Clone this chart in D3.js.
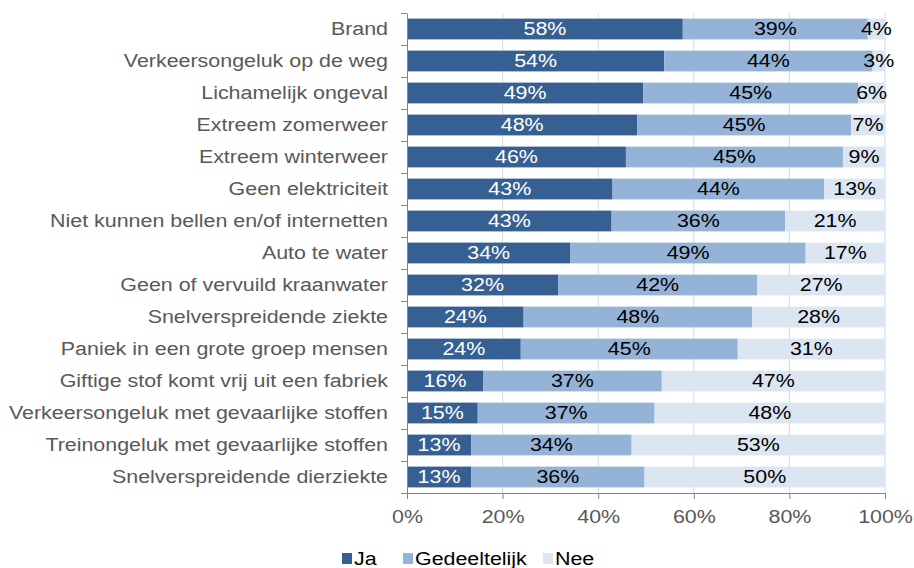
<!DOCTYPE html>
<html>
<head>
<meta charset="utf-8">
<script src="https://cdn.jsdelivr.net/npm/d3@7"></script>
<style>
  html, body { margin: 0; padding: 0; background: #fff; }
  svg { display: block; }
  text { font-family: "Liberation Sans", Arial, sans-serif; }
</style>
</head>
<body>
<svg id="chart" width="914" height="568"></svg>
<script>
// Categories (top to bottom)
const categories = [
  "Brand",
  "Verkeersongeluk op de weg",
  "Lichamelijk ongeval",
  "Extreem zomerweer",
  "Extreem winterweer",
  "Geen elektriciteit",
  "Niet kunnen bellen en/of internetten",
  "Auto te water",
  "Geen of vervuild kraanwater",
  "Snelverspreidende ziekte",
  "Paniek in een grote groep mensen",
  "Giftige stof komt vrij uit een fabriek",
  "Verkeersongeluk met gevaarlijke stoffen",
  "Treinongeluk met gevaarlijke stoffen",
  "Snelverspreidende dierziekte"
];

// Percentages per answer
const ja           = [57.7, 53.8, 49.4, 48.2, 45.8, 43.0, 42.8, 34.2, 31.6, 24.4, 23.8, 15.9, 14.8, 13.4, 13.4];
const gedeeltelijk = [38.7, 43.6, 45.0, 44.7, 45.4, 44.3, 36.3, 49.2, 41.7, 47.8, 45.4, 37.4, 37.0, 33.6, 36.3];
const nee          = [ 3.6,  2.6,  5.6,  7.1,  8.8, 12.7, 20.9, 16.6, 26.7, 27.8, 30.8, 46.7, 48.2, 53.0, 50.3];

const seriesNames = ["Ja", "Gedeeltelijk", "Nee"];
const xTicks = [0, 20, 40, 60, 80, 100];

const colors = { "Ja": "#376092", "Gedeeltelijk": "#95b3d7", "Nee": "#dce6f2" };
const labelColors = { "Ja": "#ffffff", "Gedeeltelijk": "#000000", "Nee": "#000000" };

// Text is drawn slightly widened horizontally
const SX = 1.19;
const FONT = 18;

const svg = d3.select("#chart");
const margin = { left: 407, right: 29, top: 13, bottom: 75 };
const W = 914, H = 568;

const x = d3.scaleLinear().domain([0, 100]).range([margin.left, W - margin.right]);
const y = d3.scaleBand().domain(categories)
  .range([margin.top, H - margin.bottom])
  .paddingInner(0.35).paddingOuter(0.175);

// Gridlines
svg.append("g")
  .selectAll("line")
  .data(xTicks.filter(d => d > 0))
  .join("line")
  .attr("x1", d => x(d)).attr("x2", d => x(d))
  .attr("y1", margin.top).attr("y2", H - margin.bottom)
  .attr("stroke", "#d9d9d9").attr("stroke-width", 1);

// Stacked data
const rows = categories.map((c, i) => ({ cat: c, Ja: ja[i], Gedeeltelijk: gedeeltelijk[i], Nee: nee[i] }));
const stack = d3.stack().keys(seriesNames)(rows);

const layers = svg.append("g").selectAll("g")
  .data(stack)
  .join("g")
  .attr("fill", d => colors[d.key]);

layers.selectAll("rect")
  .data(d => d)
  .join("rect")
  .attr("x", d => x(d[0]))
  .attr("y", d => y(d.data.cat))
  .attr("width", d => x(d[1]) - x(d[0]))
  .attr("height", y.bandwidth());

// Value labels
svg.append("g").selectAll("g")
  .data(stack)
  .join("g")
  .each(function(layer) {
    d3.select(this).selectAll("text")
      .data(layer)
      .join("text")
      .attr("transform", d => `translate(${(x(d[0]) + x(d[1])) / 2},${y(d.data.cat) + y.bandwidth() / 2}) scale(${SX},1)`)
      .attr("text-anchor", "middle")
      .attr("dy", "0.36em")
      .attr("font-size", FONT)
      .attr("fill", labelColors[layer.key])
      .text(d => Math.round(d.data[layer.key]) + "%");
  });

// Y axis: boundary ticks + domain line
const yEdges = d3.scaleLinear().domain([0, categories.length]).range([margin.top, H - margin.bottom]);
svg.append("g")
  .attr("transform", `translate(${margin.left},0)`)
  .call(d3.axisLeft(yEdges).tickValues(d3.range(0, categories.length + 1)).tickSize(6).tickSizeOuter(0).tickFormat(""))
  .call(g => g.selectAll("line, path").attr("stroke", "#868686"));

// Y axis category labels
svg.append("g")
  .attr("transform", `translate(${margin.left},0)`)
  .call(d3.axisLeft(y).tickSize(0).tickPadding(0))
  .call(g => g.select(".domain").remove())
  .call(g => g.selectAll("text")
    .attr("x", null)
    .attr("transform", `translate(-19,0) scale(${SX},1)`)
    .attr("font-size", FONT)
    .attr("font-family", null)
    .attr("fill", "#595959"));

// X axis
svg.append("g")
  .attr("transform", `translate(0,${H - margin.bottom})`)
  .call(d3.axisBottom(x).tickValues(xTicks).tickSize(6).tickSizeOuter(0).tickFormat(d => d + "%"))
  .call(g => g.selectAll("line, path").attr("stroke", "#868686"))
  .call(g => g.selectAll("text")
    .attr("y", null).attr("dy", null)
    .attr("transform", `translate(0,30) scale(${SX},1)`)
    .attr("font-size", FONT)
    .attr("font-family", null)
    .attr("fill", "#595959"));

// Legend
const legendItems = [
  { key: "Ja", x: 342 },
  { key: "Gedeeltelijk", x: 403 },
  { key: "Nee", x: 543 }
];
const legend = svg.append("g");
legendItems.forEach(it => {
  legend.append("rect")
    .attr("x", it.x).attr("y", 553)
    .attr("width", 10).attr("height", 11)
    .attr("fill", colors[it.key]);
  legend.append("text")
    .attr("transform", `translate(${it.x + 12},565) scale(${SX},1)`)
    .attr("font-size", FONT)
    .attr("fill", "#000")
    .text(it.key);
});
</script>
</body>
</html>
